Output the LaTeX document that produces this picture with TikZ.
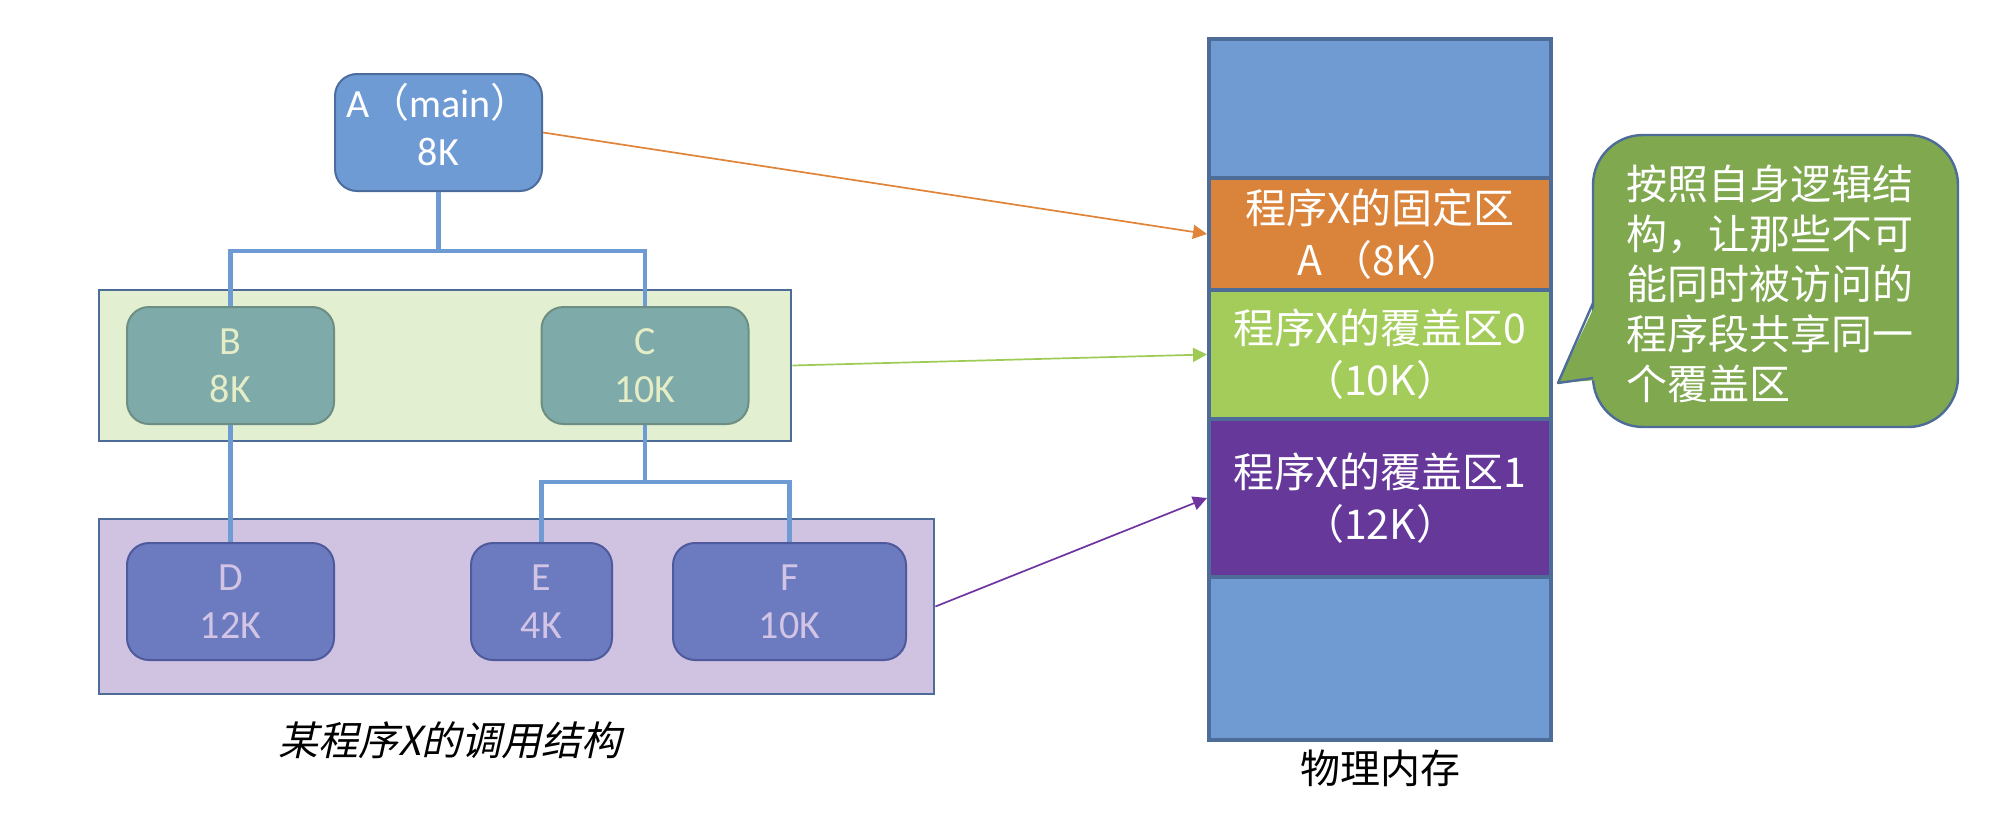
\documentclass[tikz,border=0pt]{standalone}
\usepackage{fontspec}
\setmainfont{Carlito}
\newfontfamily\cjk{Noto Sans CJK SC}
\newfontfamily\cjkit[FakeSlant=0.22]{Noto Sans CJK SC}
\usetikzlibrary{arrows.meta}
\definecolor{ablue}{HTML}{6F9BD4}
\definecolor{aborder}{HTML}{4B6C9D}
\definecolor{grpborder}{HTML}{4E6C98}
\definecolor{ggreen}{HTML}{E2EFD0}
\definecolor{bteal}{HTML}{7FAAAA}
\definecolor{bborder}{HTML}{6C8E83}
\definecolor{btext}{HTML}{E4EDC6}
\definecolor{pgroup}{HTML}{D0C2E1}
\definecolor{dfill}{HTML}{6C7BC0}
\definecolor{dborder}{HTML}{4E5A9C}
\definecolor{dtext}{HTML}{D2C4E4}
\definecolor{memblue}{HTML}{6F9AD2}
\definecolor{memorange}{HTML}{DA843B}
\definecolor{memgreen}{HTML}{A3CC5B}
\definecolor{mempurple}{HTML}{663899}
\definecolor{bubgreen}{HTML}{7FA84F}
\definecolor{arrorange}{HTML}{E0843A}
\definecolor{arrgreen}{HTML}{9ECB55}
\definecolor{arrpurple}{HTML}{6E35A0}
\begin{document}
\begin{tikzpicture}[x=0.5pt,y=-0.5pt,
  treebox/.style={rounded corners=11pt, line width=1pt, inner sep=0pt,
    minimum width=103.5pt, minimum height=58.5pt, align=center,
    font=\fontsize{20}{24}\selectfont},
  abox/.style={treebox, draw=aborder, fill=ablue, text=white},
  bbox/.style={treebox, draw=bborder, fill=bteal, text=btext},
  dbox/.style={treebox, draw=dborder, fill=dfill, text=dtext},
  group/.style={draw=grpborder, line width=1.4pt, inner sep=0pt},
  conn/.style={draw=ablue, line width=2.1pt},
  mem/.style={draw=grpborder, line width=2pt, inner sep=0pt,
    minimum width=171pt, text=white, align=center,
    font=\cjk\fontsize{20.5}{26}\selectfont},
  arr/.style={line width=0.85pt, -{Triangle[length=7pt,width=7pt]}},
  ]
\useasboundingbox (0,0) rectangle (1998,819);

% group boxes
\node[group, fill=ggreen, minimum width=346pt, minimum height=75.5pt] (g1) at (445,365.5) {};
\node[group, fill=pgroup, minimum width=417.5pt, minimum height=87.5pt] (g2) at (516.5,606.5) {};

% tree nodes
\node[abox, text depth=5pt] (A) at (438.5,132.5) {A{\cjk\smash{（}}main{\cjk\smash{）}}\\8K};
\node[bbox] (B) at (230.5,365.5) {B\\8K};
\node[bbox] (C) at (645,365.5) {C\\10K};
\node[dbox] (D) at (230.5,601.5) {D\\12K};
\node[dbox, minimum width=70.5pt] (E) at (541.5,601.5) {E\\4K};
\node[dbox, minimum width=116.5pt] (F) at (789.5,601.5) {F\\10K};

% connectors
\coordinate (j1) at (438.5,251);
\coordinate (j2) at (645,482);
\draw[conn] (A.south) -- (j1);
\draw[conn] (B.north) |- (j1) -| (C.north);
\draw[conn] (B.south) -- (D.north);
\draw[conn] (C.south) -- (j2);
\draw[conn] (E.north) |- (j2) -| (F.north);

% caption
\node[font=\cjkit\fontsize{20}{24}\selectfont] (cap) at (450,740) {某程序X的调用结构};

% memory
\node[mem, fill=memblue, minimum height=69.5pt] (m0) at (1380,108.5) {};
\node[mem, fill=memorange, minimum height=56pt] (m1) at (1380,234) {程序X的固定区\\A （8K）};
\node[mem, fill=memgreen, minimum height=64.5pt] (m2) at (1380,354.5) {程序X的覆盖区0\\（10K）};
\node[mem, fill=mempurple, minimum height=79pt] (m3) at (1380,498) {程序X的覆盖区1\\（12K）};
\node[mem, fill=memblue, minimum height=81.5pt] (m4) at (1380,658.5) {};
\node[font=\cjk\fontsize{20}{24}\selectfont] (memlabel) at (1380,768) {物理内存};

% arrows
\draw[arr, arrorange] (A.east) -- (m1.west);
\draw[arr, arrgreen] (g1.east) -- (m2.west);
\draw[arr, arrpurple] (g2.east) -- (m3.west);

% callout
\node[draw=grpborder, fill=bubgreen, line width=1.2pt, rounded corners=25pt,
  minimum width=182.5pt, minimum height=146pt, inner sep=0pt] (bub) at (1775.5,281) {};
\coordinate (tip) at (1558,383);
\coordinate (pb1) at (1593,303);
\coordinate (pb2) at (1593,378);
\fill[bubgreen] (1597,301) -- (tip) -- (1597,380) -- cycle;
\draw[grpborder, line width=1.2pt, line join=round] (pb1) -- (tip) -- (pb2);
\node[anchor=west, inner sep=0pt, align=left, text=white,
  font=\cjk\fontsize{20.5}{25}\selectfont] (bubtext) at (1626,284)
  {按照自身逻辑结\\构，让那些不可\\能同时被访问的\\程序段共享同一\\个覆盖区};
\end{tikzpicture}
\end{document}
